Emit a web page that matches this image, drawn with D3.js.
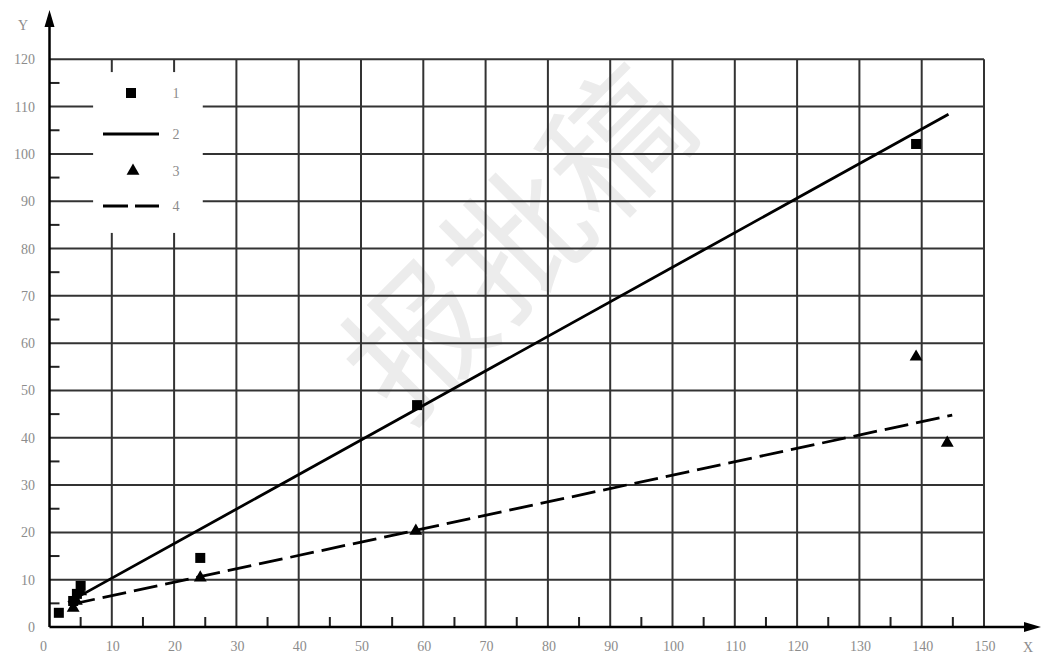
<!DOCTYPE html>
<html>
<head>
<meta charset="utf-8">
<script src="https://cdn.jsdelivr.net/npm/d3@7"></script>
<style>
  body { margin: 0; background: #fff; }
  svg { display: block; }
</style>
</head>
<body>
<svg id="chart"></svg>
<script>
const width = 1043;
const height = 657;

// Tick values
const xTicks = d3.range(0, 151, 10);
const yTicks = d3.range(0, 121, 10);
const xMinor = d3.range(5, 150, 10);
const yMinor = d3.range(5, 120, 10);

// Series 1: measured points (squares)
const squaresX = [1.5, 3.8, 4.4, 5.0, 24.2, 59.0, 139.1];
const squaresY = [3.0, 5.5, 7.0, 8.7, 14.6, 46.9, 102.1];

// Series 2: fit line for series 1 (solid)
const solidX = [3.0, 144.3];
const solidY = [5.2, 108.4];

// Series 3: measured points (triangles)
const triX = [3.8, 4.3, 5.0, 24.2, 58.8, 139.1, 144.1];
const triY = [4.0, 5.5, 7.5, 10.4, 20.3, 57.1, 38.9];

// Series 4: fit line for series 3 (dashed)
const dashX = [3.5, 144.9];
const dashY = [4.8, 44.8];

const legendLabels = ["1", "2", "3", "4"];

const layout = {left: 49.5, right: 984, top: 59.3, bottom: 627};

const svg = d3.select("#chart")
    .attr("width", width)
    .attr("height", height);

const x = d3.scaleLinear().domain([0, 150]).range([layout.left, layout.right]);
const y = d3.scaleLinear().domain([0, 120]).range([layout.bottom, layout.top]);

// Watermark, sits behind everything
svg.append("text")
    .attr("transform", "translate(510,235) rotate(-45)")
    .attr("text-anchor", "middle")
    .attr("dominant-baseline", "central")
    .attr("fill", "#ececec")
    .style("font-family", "'Noto Sans CJK SC'")
    .style("font-size", "140px")
    .text("报批稿");

// Grid
const grid = svg.append("g").attr("stroke", "#333").attr("stroke-width", 2);
grid.selectAll(".vg")
    .data(xTicks.filter(d => d > 0))
    .join("line")
    .attr("x1", d => x(d)).attr("x2", d => x(d))
    .attr("y1", y(0)).attr("y2", y(120));
grid.selectAll(".hg")
    .data(yTicks.filter(d => d > 0))
    .join("line")
    .attr("x1", x(0)).attr("x2", x(150))
    .attr("y1", d => y(d)).attr("y2", d => y(d));

// Legend box blanks out the grid behind it
svg.append("rect")
    .attr("x", x(7)).attr("y", y(117.3))
    .attr("width", x(24.6) - x(7))
    .attr("height", y(83.3) - y(117.3))
    .attr("fill", "#fff");

// Minor ticks
const ticks = svg.append("g").attr("stroke", "#222").attr("stroke-width", 2);
ticks.selectAll(".mx")
    .data(xMinor)
    .join("line")
    .attr("x1", d => x(d)).attr("x2", d => x(d))
    .attr("y1", y(0)).attr("y2", y(0) - 10);
ticks.selectAll(".my")
    .data(yMinor)
    .join("line")
    .attr("x1", x(0)).attr("x2", x(0) + 10)
    .attr("y1", d => y(d)).attr("y2", d => y(d));

// Axes with arrows
const axes = svg.append("g");
axes.append("line")
    .attr("x1", x(0)).attr("x2", 1028)
    .attr("y1", y(0)).attr("y2", y(0))
    .attr("stroke", "#000").attr("stroke-width", 2.5);
axes.append("line")
    .attr("x1", x(0)).attr("x2", x(0))
    .attr("y1", y(0)).attr("y2", 24)
    .attr("stroke", "#000").attr("stroke-width", 2.5);
axes.append("path")
    .attr("d", `M1041,${y(0)} L1024,${y(0) - 5} L1024,${y(0) + 5} Z`)
    .attr("fill", "#000");
axes.append("path")
    .attr("d", `M${x(0)},10 L${x(0) - 5},27 L${x(0) + 5},27 Z`)
    .attr("fill", "#000");

// Tick labels
const labelStyle = sel => sel
    .attr("fill", "#8c8c8c")
    .style("font-family", "'Liberation Serif', 'DejaVu Serif', serif")
    .style("font-size", "14px");

svg.append("g").selectAll("text")
    .data(xTicks)
    .join("text")
    .attr("x", d => x(d) + (d === 0 ? -6 : 1))
    .attr("y", 651)
    .attr("text-anchor", "middle")
    .text(d => d)
    .call(labelStyle);

svg.append("g").selectAll("text")
    .data(yTicks)
    .join("text")
    .attr("x", 35)
    .attr("y", d => y(d) + 5)
    .attr("text-anchor", "end")
    .text(d => d)
    .call(labelStyle);

svg.append("text").attr("x", 1028).attr("y", 652).attr("text-anchor", "middle")
    .text("X").call(labelStyle);
svg.append("text").attr("x", 23).attr("y", 30).attr("text-anchor", "middle")
    .text("Y").call(labelStyle);

// Fit lines
const line = d3.line().x(d => x(d[0])).y(d => y(d[1]));
svg.append("path")
    .datum(d3.zip(solidX, solidY))
    .attr("d", line)
    .attr("fill", "none").attr("stroke", "#000").attr("stroke-width", 2.8);
svg.append("path")
    .datum(d3.zip(dashX, dashY))
    .attr("d", line)
    .attr("fill", "none").attr("stroke", "#000").attr("stroke-width", 2.8)
    .attr("stroke-dasharray", "24,8");

// Markers
const sq = 10;
svg.append("g").selectAll("rect")
    .data(d3.zip(squaresX, squaresY))
    .join("rect")
    .attr("x", d => x(d[0]) - sq / 2)
    .attr("y", d => y(d[1]) - sq / 2)
    .attr("width", sq).attr("height", sq)
    .attr("fill", "#000");

const tri = d3.symbol().type(d3.symbolTriangle).size(72);
svg.append("g").selectAll("path")
    .data(d3.zip(triX, triY))
    .join("path")
    .attr("transform", d => `translate(${x(d[0])},${y(d[1])})`)
    .attr("d", tri)
    .attr("fill", "#000");

// Legend
const lg = svg.append("g");
const rowY = [93, 134, 171, 206];
lg.append("rect")
    .attr("x", 131 - sq / 2).attr("y", rowY[0] - sq / 2)
    .attr("width", sq).attr("height", sq).attr("fill", "#000");
lg.append("line")
    .attr("x1", 103).attr("x2", 159).attr("y1", rowY[1]).attr("y2", rowY[1])
    .attr("stroke", "#000").attr("stroke-width", 2.8);
lg.append("path")
    .attr("transform", `translate(133,${rowY[2]})`)
    .attr("d", tri).attr("fill", "#000");
lg.append("line")
    .attr("x1", 103).attr("x2", 159).attr("y1", rowY[3]).attr("y2", rowY[3])
    .attr("stroke", "#000").attr("stroke-width", 2.8)
    .attr("stroke-dasharray", "25,7");
lg.selectAll(".lt")
    .data(legendLabels)
    .join("text")
    .attr("x", 176)
    .attr("y", (d, i) => rowY[i] + 5)
    .attr("text-anchor", "middle")
    .text(d => d)
    .call(labelStyle);
</script>
</body>
</html>
